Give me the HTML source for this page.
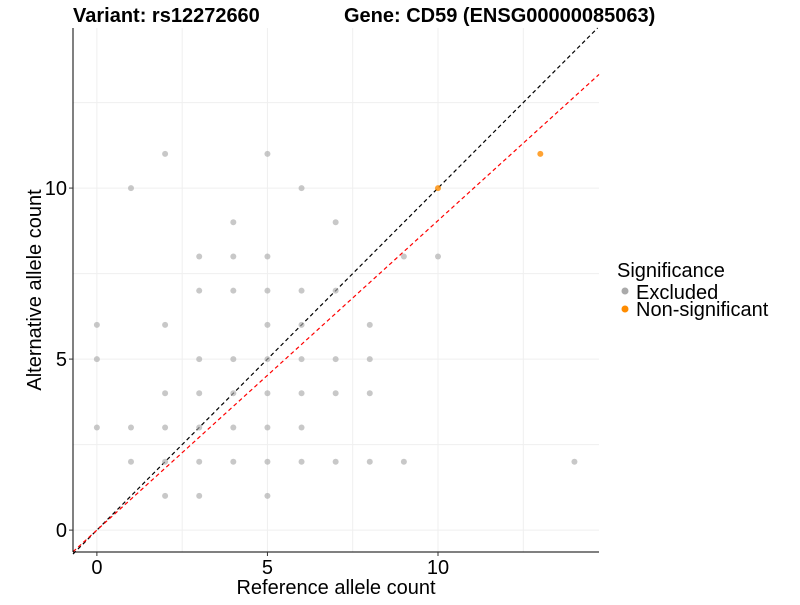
<!DOCTYPE html>
<html><head><meta charset="utf-8"><style>
body{margin:0;background:#fff;font-family:"Liberation Sans",sans-serif}
svg text{font-family:"Liberation Sans",sans-serif}
</style></head><body>
<svg id="chart" width="800" height="600" viewBox="0 0 800 600">
<g id="grid"></g><g id="lines"></g><g id="pts"></g><g id="axes"></g>
<text x="73" y="22" font-size="20" font-weight="bold">Variant: rs12272660</text>
<text x="344" y="22" font-size="20" font-weight="bold">Gene: CD59 (ENSG00000085063)</text>
<text x="336" y="594" font-size="20" text-anchor="middle">Reference allele count</text>
<text transform="translate(41,290) rotate(-90)" font-size="20" text-anchor="middle">Alternative allele count</text>
<g>
<text x="617" y="277" font-size="20">Significance</text>
<circle cx="625" cy="291" r="3.5" fill="#aaaaaa"/>
<text x="636" y="299" font-size="20">Excluded</text>
<circle cx="625" cy="309" r="3.5" fill="#ff8c00"/>
<text x="636" y="316" font-size="20">Non-significant</text>
</g>
</svg>
<script>
const excludedX=[2,5,1,6,4,7,3,4,5,9,10,3,4,5,6,7,0,2,5,6,8,0,3,4,5,6,7,8,2,3,4,5,6,7,8,0,1,2,3,4,5,6,1,2,3,4,5,6,7,8,9,14,2,3,5];
const excludedY=[11,11,10,10,9,9,8,8,8,8,8,7,7,7,7,7,6,6,6,6,6,5,5,5,5,5,5,5,4,4,4,4,4,4,4,3,3,3,3,3,3,3,2,2,2,2,2,2,2,2,2,2,1,1,1];
const nonsigX=[13,10];
const nonsigY=[11,10];
const xTicks=[0,5,10];
const yTicks=[0,5,10];
const redSlope=0.905;
const X0=73,X1=599,Y0=552,Y1=28,xmin=-0.7,xmax=14.72,ymin=-0.64,ymax=14.68;
const sx=v=>X0+(v-xmin)/(xmax-xmin)*(X1-X0);
const sy=v=>Y0-(v-ymin)/(ymax-ymin)*(Y0-Y1);
const NS='http://www.w3.org/2000/svg';
function mk(tag,attrs,parent){const e=document.createElementNS(NS,tag);for(const k in attrs)e.setAttribute(k,attrs[k]);document.getElementById(parent).appendChild(e);return e;}
[0,2.5,5,7.5,10,12.5].forEach(v=>{
 const g=mk('line',{x1:sx(v),x2:sx(v),y1:Y1,y2:Y0,stroke:'#efefef','stroke-width':1},'grid');
 
 
 const h=mk('line',{x1:X0,x2:X1,y1:sy(v),y2:sy(v),stroke:'#efefef','stroke-width':1},'grid');
 
 
});
const xe=Math.min(xmax,ymax);
const l1=mk('line',{x1:sx(xmin),y1:sy(xmin),x2:sx(xe),y2:sy(xe),stroke:'#000','stroke-width':1.2,'stroke-dasharray':'4,3'},'lines');


const l2=mk('line',{x1:sx(xmin),y1:sy(xmin*redSlope),x2:sx(xmax),y2:sy(xmax*redSlope),stroke:'#ff0000','stroke-width':1.2,'stroke-dasharray':'4,3'},'lines');


excludedX.forEach((x,i)=>{
 const c=mk('circle',{cx:sx(x),cy:sy(excludedY[i]),r:3,fill:'#aaaaaa','fill-opacity':0.65},'pts');
 
 
});
nonsigX.forEach((x,i)=>{
 const c=mk('circle',{cx:sx(x),cy:sy(nonsigY[i]),r:3,fill:'#ff8c00','fill-opacity':0.8},'pts');
 
 
});
const ax=mk('line',{x1:X0,x2:X0,y1:Y1,y2:Y0,stroke:'#000','stroke-width':1},'axes');


const ay=mk('line',{x1:X0,x2:X1,y1:Y0,y2:Y0,stroke:'#000','stroke-width':1},'axes');


xTicks.forEach(v=>{
 const t=mk('line',{x1:sx(v),x2:sx(v),y1:Y0,y2:Y0+4,stroke:'#333'},'axes');
 
 
 const l=mk('text',{x:sx(v),y:Y0+22,'font-size':20,'text-anchor':'middle'},'axes');
 l.textContent=v;
 
 
});
yTicks.forEach(v=>{
 const t=mk('line',{x1:X0-4,x2:X0,y1:sy(v),y2:sy(v),stroke:'#333'},'axes');
 
 
 const l=mk('text',{x:X0-6,y:sy(v)+7,'font-size':20,'text-anchor':'end'},'axes');
 l.textContent=v;
 
 
});
</script>
</body></html>
